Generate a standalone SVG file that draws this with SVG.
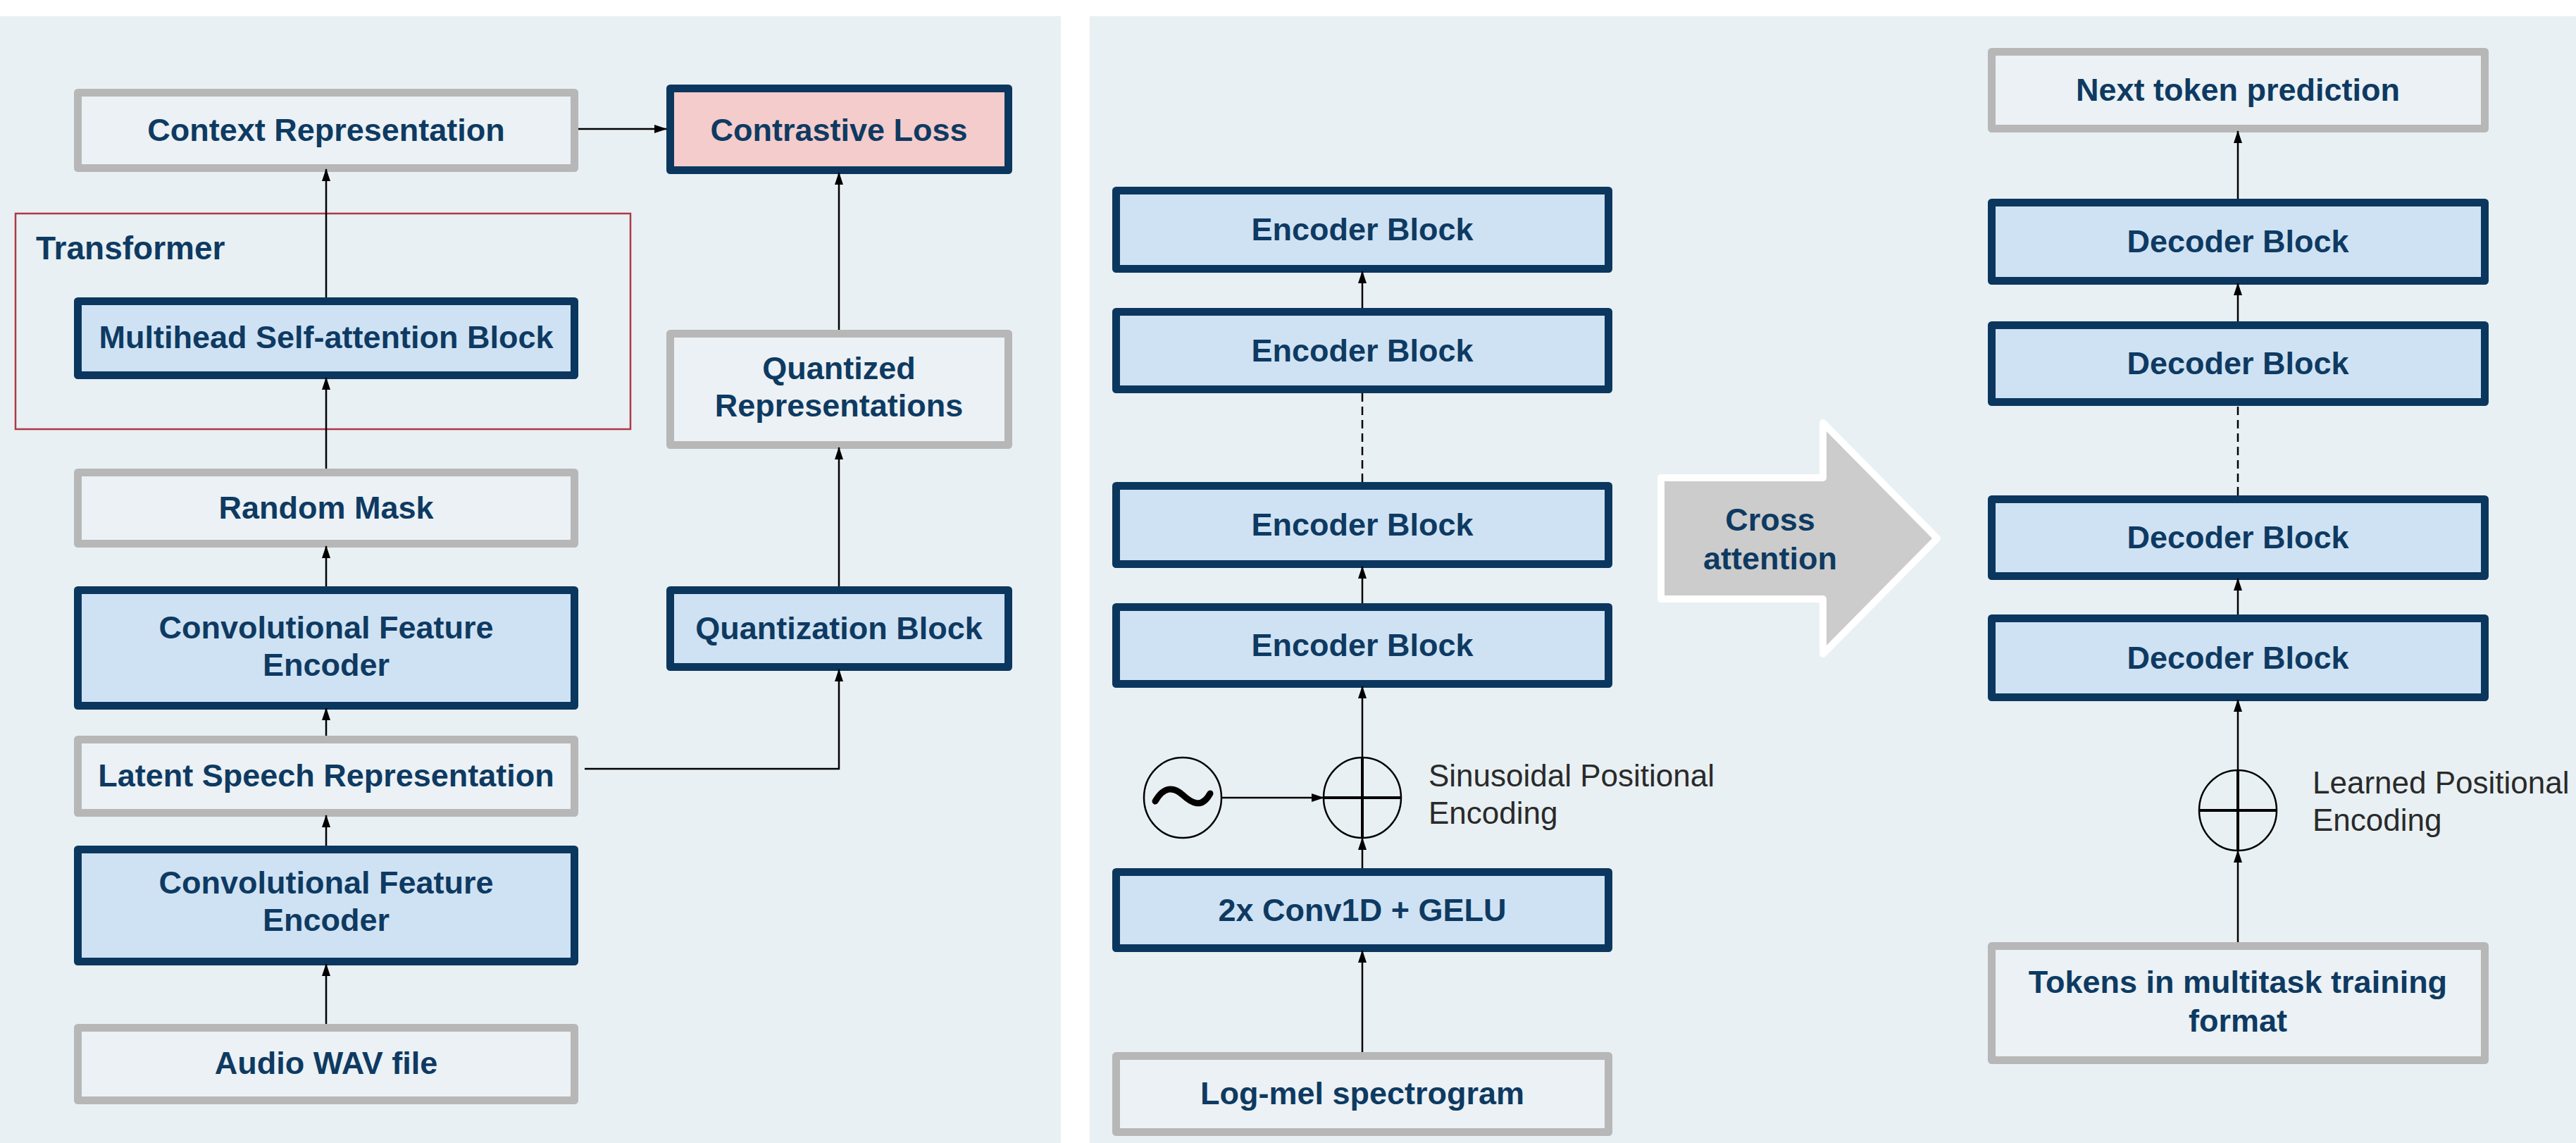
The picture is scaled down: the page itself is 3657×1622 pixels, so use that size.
<svg xmlns="http://www.w3.org/2000/svg" width="3657" height="1622" viewBox="0 0 3657 1622">
  <defs>
    <marker id="arrow" viewBox="0 0 18 12" refX="17" refY="6" markerWidth="18" markerHeight="12" markerUnits="userSpaceOnUse" orient="auto">
      <path d="M0,0 L18,6 L0,12 Z" fill="#000000"/>
    </marker>
    <style>
      .panel { fill: #E8F0F3; }
      .box-grey { fill: #EBF1F4; stroke: #B7B7B7; stroke-width: 11; stroke-linejoin: round; }
      .box-navy { fill: #CFE2F3; stroke: #0B375F; stroke-width: 11; stroke-linejoin: round; }
      .box-pink { fill: #F4CCCC; stroke: #0B375F; stroke-width: 11; stroke-linejoin: round; }
      .group-frame { fill: none; stroke: #B03848; stroke-width: 2.5; }
      .lbl { font-family: "Liberation Sans", Arial, sans-serif; font-weight: bold; font-size: 45px; fill: #0E3A62; text-anchor: middle; }
      .title { font-family: "Liberation Sans", Arial, sans-serif; font-weight: bold; font-size: 46px; fill: #0E3A62; }
      .note { font-family: "Liberation Sans", Arial, sans-serif; font-size: 44px; fill: #2A2A2A; }
      .conn { fill: none; stroke: #000000; stroke-width: 2.5; }
      .conn-arrow { fill: none; stroke: #000000; stroke-width: 2.5; marker-end: url(#arrow); }
      .conn-dash { fill: none; stroke: #000000; stroke-width: 2.5; stroke-dasharray: 12 7; }
      .op { fill: none; stroke: #000000; stroke-width: 2.5; }
      .op-bar { stroke: #000000; stroke-width: 4; }
      .wave { fill: none; stroke: #000000; stroke-width: 9; stroke-linecap: round; }
      .big-arrow { fill: #CCCCCC; stroke: #FFFFFF; stroke-width: 10; stroke-linejoin: round; }
    </style>
  </defs>

  <!-- page and the two panels -->
  <rect x="0" y="0" width="3657" height="1622" fill="#FFFFFF"/>
  <rect class="panel" x="0" y="23" width="1506" height="1599"/>
  <rect class="panel" x="1547" y="23" width="2110" height="1599"/>

  <!-- ===== wav2vec 2.0 side ===== -->
  <g id="transformer-group">
    <rect class="group-frame" x="22" y="303" width="873" height="306"/>
    <text class="title" x="51" y="368">Transformer</text>
  </g>

  <g id="context-representation">
    <rect class="box-grey" x="110.5" y="131.5" width="705" height="107"/>
    <text class="lbl" x="463" y="200">Context Representation</text>
  </g>
  <g id="multihead-attention">
    <rect class="box-navy" x="110.5" y="427.5" width="705" height="105"/>
    <text class="lbl" x="463" y="494">Multihead Self-attention Block</text>
  </g>
  <g id="random-mask">
    <rect class="box-grey" x="110.5" y="670.5" width="705" height="101"/>
    <text class="lbl" x="463" y="736">Random Mask</text>
  </g>
  <g id="conv-feature-encoder-upper">
    <rect class="box-navy" x="110.5" y="837.5" width="705" height="164"/>
    <text class="lbl" x="463" y="906">Convolutional Feature</text>
    <text class="lbl" x="463" y="959">Encoder</text>
  </g>
  <g id="latent-speech-representation">
    <rect class="box-grey" x="110.5" y="1049.5" width="705" height="104"/>
    <text class="lbl" x="463" y="1116">Latent Speech Representation</text>
  </g>
  <g id="conv-feature-encoder-lower">
    <rect class="box-navy" x="110.5" y="1205.5" width="705" height="159"/>
    <text class="lbl" x="463" y="1268">Convolutional Feature</text>
    <text class="lbl" x="463" y="1321">Encoder</text>
  </g>
  <g id="audio-wav">
    <rect class="box-grey" x="110.5" y="1458.5" width="705" height="103"/>
    <text class="lbl" x="463" y="1524">Audio WAV file</text>
  </g>
  <g id="contrastive-loss">
    <rect class="box-pink" x="951.5" y="125.5" width="480" height="116"/>
    <text class="lbl" x="1191" y="200">Contrastive Loss</text>
  </g>
  <g id="quantized-representations">
    <rect class="box-grey" x="951.5" y="473.5" width="480" height="158"/>
    <text class="lbl" x="1191" y="538">Quantized</text>
    <text class="lbl" x="1191" y="591">Representations</text>
  </g>
  <g id="quantization-block">
    <rect class="box-navy" x="951.5" y="837.5" width="480" height="109"/>
    <text class="lbl" x="1191" y="907">Quantization Block</text>
  </g>

  <!-- ===== Whisper side ===== -->
  <g id="encoder-block-1">
    <rect class="box-navy" x="1584.5" y="270.5" width="699" height="111"/>
    <text class="lbl" x="1934" y="341">Encoder Block</text>
  </g>
  <g id="encoder-block-2">
    <rect class="box-navy" x="1584.5" y="442.5" width="699" height="110"/>
    <text class="lbl" x="1934" y="513">Encoder Block</text>
  </g>
  <g id="encoder-block-3">
    <rect class="box-navy" x="1584.5" y="689.5" width="699" height="111"/>
    <text class="lbl" x="1934" y="760">Encoder Block</text>
  </g>
  <g id="encoder-block-4">
    <rect class="box-navy" x="1584.5" y="861.5" width="699" height="109"/>
    <text class="lbl" x="1934" y="931">Encoder Block</text>
  </g>
  <g id="sinusoid-source">
    <ellipse class="op" cx="1679" cy="1132" rx="55" ry="57"/>
    <path class="wave" d="M1640,1137 C1652,1116 1666,1116 1679,1128 C1692,1140 1706,1148 1718,1126"/>
  </g>
  <g id="sinusoidal-add">
    <ellipse class="op" cx="1934" cy="1132" rx="55" ry="57"/>
    <line class="op-bar" x1="1879" y1="1132" x2="1989" y2="1132"/>
    <line class="op-bar" x1="1934" y1="1075" x2="1934" y2="1189"/>
    <text class="note" x="2028" y="1116">Sinusoidal Positional</text>
    <text class="note" x="2028" y="1169">Encoding</text>
  </g>
  <g id="conv1d-gelu">
    <rect class="box-navy" x="1584.5" y="1237.5" width="699" height="108"/>
    <text class="lbl" x="1934" y="1307">2x Conv1D + GELU</text>
  </g>
  <g id="log-mel">
    <rect class="box-grey" x="1584.5" y="1498.5" width="699" height="108"/>
    <text class="lbl" x="1934" y="1567">Log-mel spectrogram</text>
  </g>

  <g id="cross-attention">
    <polygon class="big-arrow" points="2358,678 2588,678 2588,600 2750,764 2588,928 2588,850 2358,850"/>
    <text class="lbl" x="2513" y="753">Cross</text>
    <text class="lbl" x="2513" y="808">attention</text>
  </g>

  <g id="next-token">
    <rect class="box-grey" x="2827.5" y="73.5" width="700" height="109"/>
    <text class="lbl" x="3177" y="143">Next token prediction</text>
  </g>
  <g id="decoder-block-1">
    <rect class="box-navy" x="2827.5" y="287.5" width="700" height="111"/>
    <text class="lbl" x="3177" y="358">Decoder Block</text>
  </g>
  <g id="decoder-block-2">
    <rect class="box-navy" x="2827.5" y="461.5" width="700" height="109"/>
    <text class="lbl" x="3177" y="531">Decoder Block</text>
  </g>
  <g id="decoder-block-3">
    <rect class="box-navy" x="2827.5" y="708.5" width="700" height="109"/>
    <text class="lbl" x="3177" y="778">Decoder Block</text>
  </g>
  <g id="decoder-block-4">
    <rect class="box-navy" x="2827.5" y="877.5" width="700" height="112"/>
    <text class="lbl" x="3177" y="949">Decoder Block</text>
  </g>
  <g id="learned-add">
    <ellipse class="op" cx="3177" cy="1150" rx="55" ry="57"/>
    <line class="op-bar" x1="3122" y1="1150" x2="3232" y2="1150"/>
    <line class="op-bar" x1="3177" y1="1093" x2="3177" y2="1207"/>
    <text class="note" x="3283" y="1126">Learned Positional</text>
    <text class="note" x="3283" y="1179">Encoding</text>
  </g>
  <g id="tokens">
    <rect class="box-grey" x="2827.5" y="1342.5" width="700" height="162"/>
    <text class="lbl" x="3177" y="1409">Tokens in multitask training</text>
    <text class="lbl" x="3177" y="1464">format</text>
  </g>

  <!-- connectors -->
  <g id="connectors">
    <line class="conn-arrow" x1="821" y1="183" x2="946" y2="183"/>
    <line class="conn-arrow" x1="463" y1="422" x2="463" y2="240"/>
    <line class="conn-arrow" x1="463" y1="665" x2="463" y2="536"/>
    <line class="conn-arrow" x1="463" y1="832" x2="463" y2="775"/>
    <line class="conn-arrow" x1="463" y1="1044" x2="463" y2="1005"/>
    <line class="conn-arrow" x1="463" y1="1200" x2="463" y2="1157"/>
    <line class="conn-arrow" x1="463" y1="1453" x2="463" y2="1368"/>
    <polyline class="conn-arrow" points="830,1091 1191,1091 1191,950"/>
    <line class="conn-arrow" x1="1191" y1="832" x2="1191" y2="635"/>
    <line class="conn-arrow" x1="1191" y1="468" x2="1191" y2="245"/>

    <line class="conn-arrow" x1="1934" y1="437" x2="1934" y2="385"/>
    <line class="conn-dash" x1="1934" y1="684" x2="1934" y2="558"/>
    <line class="conn-arrow" x1="1934" y1="856" x2="1934" y2="804"/>
    <line class="conn-arrow" x1="1934" y1="1075" x2="1934" y2="974"/>
    <line class="conn-arrow" x1="1934" y1="1232" x2="1934" y2="1189"/>
    <line class="conn-arrow" x1="1934" y1="1493" x2="1934" y2="1349"/>
    <line class="conn-arrow" x1="1734" y1="1132" x2="1879" y2="1132"/>

    <line class="conn-arrow" x1="3177" y1="282" x2="3177" y2="186"/>
    <line class="conn-arrow" x1="3177" y1="456" x2="3177" y2="402"/>
    <line class="conn-dash" x1="3177" y1="703" x2="3177" y2="576"/>
    <line class="conn-arrow" x1="3177" y1="872" x2="3177" y2="821"/>
    <line class="conn-arrow" x1="3177" y1="1093" x2="3177" y2="993"/>
    <line class="conn-arrow" x1="3177" y1="1337" x2="3177" y2="1207"/>
  </g>
</svg>
